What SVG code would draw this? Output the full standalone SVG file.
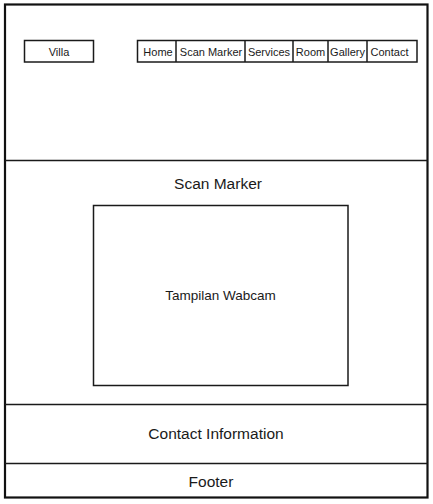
<svg xmlns="http://www.w3.org/2000/svg" width="433" height="504" viewBox="0 0 433 504">
<style>
text{font-family:"Liberation Sans",Arial,sans-serif;fill:#1a1a1a;text-anchor:middle;dominant-baseline:central}
.b{fill:none;stroke:#1a1a1a;stroke-width:1.5}
.s{font-size:11px}
.m{font-size:15.5px}
</style>
<rect width="433" height="504" fill="#fff"/>
<g id="frame"><rect x="5" y="4.5" width="422.5" height="493" fill="none" stroke="#111" stroke-width="2.2"/></g>
<g id="connectors">
<line class="b" x1="5" y1="160.5" x2="427.5" y2="160.5"/>
<line class="b" x1="5" y1="404.5" x2="427.5" y2="404.5"/>
<line class="b" x1="5" y1="463.5" x2="427.5" y2="463.5"/>
</g>
<g id="villa"><rect class="b" x="24.5" y="40.5" width="69" height="21.5"/><text class="s" x="59" y="51.5">Villa</text></g>
<g id="nav">
<rect class="b" x="137.5" y="40.5" width="279.5" height="21.5"/>
<line class="b" x1="176" y1="40.5" x2="176" y2="62"/>
<line class="b" x1="245" y1="40.5" x2="245" y2="62"/>
<line class="b" x1="293" y1="40.5" x2="293" y2="62"/>
<line class="b" x1="328" y1="40.5" x2="328" y2="62"/>
<line class="b" x1="367" y1="40.5" x2="367" y2="62"/>
<text class="s" x="158" y="51.5">Home</text>
<text class="s" x="211" y="51.5">Scan Marker</text>
<text class="s" x="269" y="51.5">Services</text>
<text class="s" x="310.5" y="51.5">Room</text>
<text class="s" x="347.5" y="51.5">Gallery</text>
<text class="s" x="389.5" y="51.5">Contact</text>
</g>
<g id="scan-title"><text class="m" x="218" y="183">Scan Marker</text></g>
<g id="webcam"><rect class="b" x="93.5" y="205.5" width="254.5" height="180"/><text x="220.5" y="295" style="font-size:13.5px">Tampilan Wabcam</text></g>
<g id="contact"><text class="m" x="216" y="433">Contact Information</text></g>
<g id="footer"><text class="m" x="211" y="481">Footer</text></g>
</svg>
